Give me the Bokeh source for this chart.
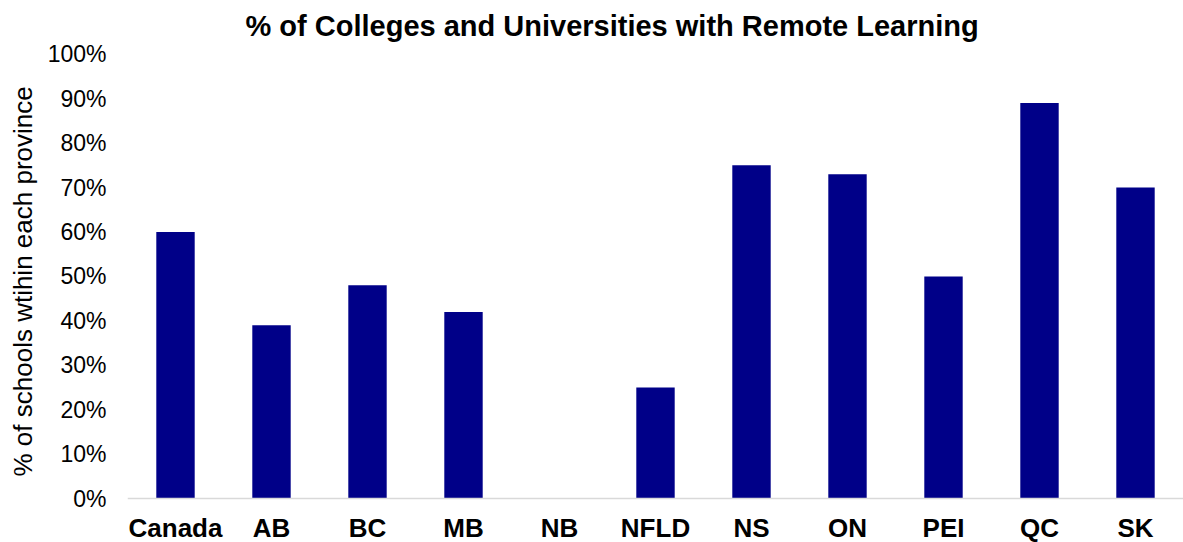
from bokeh.plotting import figure
from bokeh.models import (FactorRange, Range1d, ColumnDataSource, NumeralTickFormatter,
                          FixedTicker, Span, Title)
from bokeh.core.properties import value
from bokeh.embed import file_html
from bokeh.resources import INLINE

provinces = ["Canada", "AB", "BC", "MB", "NB", "NFLD", "NS", "ON", "PEI", "QC", "SK"]
remote_share = [0.60, 0.39, 0.48, 0.42, 0.0, 0.25, 0.75, 0.73, 0.50, 0.89, 0.70]
y_ticks = [0, 0.1, 0.2, 0.3, 0.4, 0.5, 0.6, 0.7, 0.8, 0.9, 1.0]

FONT = "Liberation Sans"

src = ColumnDataSource(data=dict(prov=provinces, share=remote_share))

# layout geometry (pixels): frame runs from below the title to the canvas bottom,
# 0% sits at y=498 and 100% at y=52.7; the strip under 0% holds the category names
W, H = 1183, 542
FRAME_TOP = 48.0
ZERO_PX, FULL_PX = 498.0, 52.7
px_per_unit = ZERO_PX - FULL_PX
y_start = -(H - ZERO_PX) / px_per_unit
y_end = 1.0 + (FULL_PX - FRAME_TOP) / px_per_unit

p = figure(
    x_range=FactorRange(*provinces),
    y_range=Range1d(y_start, y_end),
    width=W, height=H,
    output_backend="svg", toolbar_location=None,
    min_border_left=127, min_border_right=0,
    min_border_top=0, min_border_bottom=0,
)

p.vbar(x="prov", top="share", bottom=0, width=0.4, source=src,
       fill_color="#000088", line_color=None)

# category axis line and names
p.add_layout(Span(location=0, dimension="width", line_color="#d9d9d9", line_width=1.5))
p.text(x="prov", y=0, text="prov", source=src, y_offset=14,
       text_align="center", text_baseline="top",
       text_font=value(FONT), text_font_size="26px", text_font_style="bold",
       text_color="#000000")

p.title.text = "% of Colleges and Universities with Remote Learning"
p.title.align = "left"
p.title.offset = 118
p.title.vertical_align = "bottom"
p.title.text_font = FONT
p.title.text_font_size = "29px"
p.title.text_font_style = "bold"
p.title.text_color = "#000000"
p.title.standoff = 15

p.xgrid.visible = False
p.ygrid.visible = False
p.xaxis.visible = False
p.outline_line_color = None
p.background_fill_color = "white"
p.border_fill_color = "white"

# y axis
p.yaxis.ticker = FixedTicker(ticks=y_ticks)
p.yaxis.formatter = NumeralTickFormatter(format="0%")
p.yaxis.axis_line_color = None
p.yaxis.major_tick_line_color = None
p.yaxis.minor_tick_line_color = None
p.yaxis.major_tick_out = 0
p.yaxis.major_tick_in = 0
p.yaxis.major_label_standoff = 21
p.yaxis.major_label_text_font = FONT
p.yaxis.major_label_text_font_size = "23px"
p.yaxis.major_label_text_color = "#000000"

# y axis title, placed along the 0-100% span
ytitle = Title(text="% of schools wtihin each province", align="left", offset=66,
               vertical_align="middle", standoff=11,
               text_font=FONT, text_font_size="26px", text_font_style="normal",
               text_color="#000000")
p.add_layout(ytitle, "left")

open("out.html", "w").write(file_html(p, INLINE))
